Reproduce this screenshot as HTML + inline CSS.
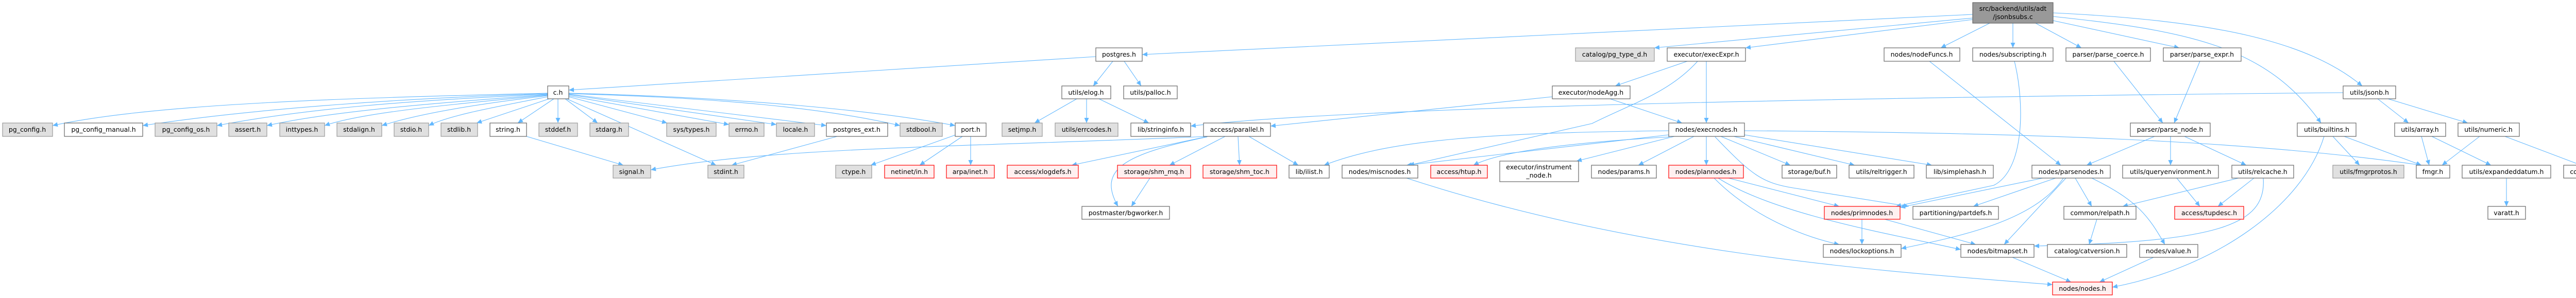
<!DOCTYPE html>
<html><head><meta charset="utf-8"><style>
html,body{margin:0;padding:0;background:#fff;overflow:hidden;width:5128px;height:579px;}
svg{display:block;position:absolute;left:0;top:0;}
text{font-family:"DejaVu Sans","Liberation Sans",sans-serif;font-size:12.5px;fill:#000;text-anchor:middle;}
.w{fill:#fff;stroke:#666;stroke-width:1.2}
.g{fill:#e0e0e0;stroke:#999;stroke-width:1.2}
.r{fill:#fff0f0;stroke:#f00;stroke-width:1.2}
.k{fill:#999;stroke:#666;stroke-width:1.2}
path{fill:none;stroke:#63b8ff;stroke-width:1.1}
</style></head><body>
<svg width="5128" height="579" viewBox="0 0 5128 579" xmlns="http://www.w3.org/2000/svg">
<defs><marker id="a" markerUnits="userSpaceOnUse" markerWidth="11" markerHeight="9" refX="10" refY="4.5" orient="auto"><path d="M0,0 L10,4.5 L0,9 z" style="fill:#63b8ff;stroke:none"/></marker></defs>
<g marker-end="url(#a)">
<path d="M3829,28 L2217,106"/>
<path d="M3840,34 L3211,93"/>
<path d="M3829,38 L3388,93"/>
<path d="M3862,45 L3767,93"/>
<path d="M3907,45 L3907,93"/>
<path d="M3951,45 L4040,93"/>
<path d="M3985,40 L4230,93"/>
<path d="M3985,32 C4250,60 4400,90 4505,239"/>
<path d="M3985,25 C4300,40 4480,80 4585,167"/>
<path d="M2127,110 L1104,175"/>
<path d="M2160,119 L2122,167"/>
<path d="M2182,119 L2215,167"/>
<path d="M1063,181 C700,190 300,200 102,244"/>
<path d="M1063,182 C800,190 500,210 277,244"/>
<path d="M1063,183 C800,195 600,210 421,244"/>
<path d="M1063,184 C850,200 650,215 518,244"/>
<path d="M1063,185 C850,205 700,220 630,244"/>
<path d="M1063,186 C900,205 800,225 741,244"/>
<path d="M1063,188 C950,210 870,225 832,244"/>
<path d="M1066,192 L925,239"/>
<path d="M1075,192 L1005,239"/>
<path d="M1083,192 L1083,239"/>
<path d="M1097,192 L1160,239"/>
<path d="M1104,188 L1295,239"/>
<path d="M1104,186 L1415,242"/>
<path d="M1104,184 L1507,242"/>
<path d="M1104,183 L1604,244"/>
<path d="M1104,182 C1400,190 1600,210 1747,244"/>
<path d="M1104,181 C1450,190 1700,215 1854,244"/>
<path d="M1100,192 L1390,321"/>
<path d="M1022,265 L1210,321"/>
<path d="M1625,265 L1420,321"/>
<path d="M1855,262 L1690,321"/>
<path d="M1868,265 L1785,321"/>
<path d="M1884,265 L1884,321"/>
<path d="M2090,192 L2008,239"/>
<path d="M2109,192 L2109,239"/>
<path d="M2133,192 L2230,239"/>
<path d="M2343,265 C1900,285 1500,285 1263,330"/>
<path d="M2345,265 L2080,321"/>
<path d="M2343,266 C2180,300 2130,330 2170,401"/>
<path d="M2378,265 L2270,321"/>
<path d="M2403,265 L2406,321"/>
<path d="M2424,265 L2520,321"/>
<path d="M2232,346 L2196,401"/>
<path d="M3275,119 L3135,167"/>
<path d="M3312,119 L3312,239"/>
<path d="M3295,119 C3240,180 3170,200 3090,240 L2735,321"/>
<path d="M3013,188 L2466,245"/>
<path d="M3125,192 L3265,239"/>
<path d="M4548,180 C3500,190 2600,210 2311,245"/>
<path d="M3239,254 C2900,258 2700,270 2570,321"/>
<path d="M3239,262 L2730,321"/>
<path d="M3240,266 C3000,280 2900,300 2860,321"/>
<path d="M3250,265 L3060,313"/>
<path d="M3288,265 L3180,321"/>
<path d="M3312,265 L3312,321"/>
<path d="M3340,265 L3475,321"/>
<path d="M3365,265 L3600,321"/>
<path d="M3386,262 L3750,321"/>
<path d="M3329,266 C3400,340 3420,355 3480,365 L3705,401"/>
<path d="M3386,254 C3900,258 4350,270 4700,321"/>
<path d="M3355,346 L3570,401"/>
<path d="M3327,346 C3400,420 3500,460 3570,475"/>
<path d="M3335,346 C3450,420 3700,460 3806,485"/>
<path d="M3614,426 L3614,475"/>
<path d="M3658,426 L3835,475"/>
<path d="M3906,500 L4020,548"/>
<path d="M2730,346 C3200,500 3700,530 3984,553"/>
<path d="M3745,119 L4000,321"/>
<path d="M3910,119 C3930,200 3930,330 3870,360 L3680,401"/>
<path d="M3965,346 L3688,403"/>
<path d="M3990,346 L3830,401"/>
<path d="M4005,346 C3950,430 3800,460 3690,483"/>
<path d="M4010,346 L3890,475"/>
<path d="M4028,346 L4060,401"/>
<path d="M4060,346 C4150,390 4170,420 4202,475"/>
<path d="M4070,426 L4055,475"/>
<path d="M4345,346 L4120,401"/>
<path d="M4375,346 L4305,401"/>
<path d="M4393,346 C4400,440 4300,470 3948,478"/>
<path d="M4225,346 L4270,401"/>
<path d="M4103,119 L4198,239"/>
<path d="M4270,119 L4220,239"/>
<path d="M4182,265 L4050,321"/>
<path d="M4213,265 L4213,321"/>
<path d="M4240,265 L4360,321"/>
<path d="M4550,265 L4700,321"/>
<path d="M4528,265 L4580,321"/>
<path d="M4511,265 C4470,400 4300,520 4100,558"/>
<path d="M4180,500 L4075,548"/>
<path d="M4615,192 L4675,239"/>
<path d="M4635,192 L4790,239"/>
<path d="M4700,265 L4715,321"/>
<path d="M4720,265 L4835,321"/>
<path d="M4813,265 L4740,321"/>
<path d="M4862,265 L5010,321"/>
<path d="M4865,346 L4865,401"/>
</g>
<rect class="k" x="3829" y="5" width="156" height="40"/><text x="3907" y="21">src/backend/utils/adt</text><text x="3907" y="37">/jsonbsubs.c</text>
<rect class="w" x="2127" y="93" width="90" height="26"/><text x="2172" y="110">postgres.h</text>
<rect class="g" x="3058" y="93" width="153" height="26"/><text x="3134" y="110">catalog/pg_type_d.h</text>
<rect class="w" x="3236" y="93" width="152" height="26"/><text x="3312" y="110">executor/execExpr.h</text>
<rect class="w" x="3657" y="93" width="147" height="26"/><text x="3730" y="110">nodes/nodeFuncs.h</text>
<rect class="w" x="3829" y="93" width="156" height="26"/><text x="3907" y="110">nodes/subscripting.h</text>
<rect class="w" x="4010" y="93" width="164" height="26"/><text x="4092" y="110">parser/parse_coerce.h</text>
<rect class="w" x="4199" y="93" width="151" height="26"/><text x="4274" y="110">parser/parse_expr.h</text>
<rect class="w" x="1063" y="167" width="41" height="25"/><text x="1083" y="184">c.h</text>
<rect class="w" x="2061" y="167" width="95" height="25"/><text x="2108" y="184">utils/elog.h</text>
<rect class="w" x="2181" y="167" width="104" height="25"/><text x="2233" y="184">utils/palloc.h</text>
<rect class="w" x="3013" y="167" width="151" height="25"/><text x="3088" y="184">executor/nodeAgg.h</text>
<rect class="w" x="4548" y="167" width="102" height="25"/><text x="4599" y="184">utils/jsonb.h</text>
<rect class="g" x="5" y="239" width="97" height="26"/><text x="53" y="256">pg_config.h</text>
<rect class="w" x="125" y="239" width="152" height="26"/><text x="201" y="256">pg_config_manual.h</text>
<rect class="g" x="301" y="239" width="120" height="26"/><text x="361" y="256">pg_config_os.h</text>
<rect class="g" x="444" y="239" width="74" height="26"/><text x="481" y="256">assert.h</text>
<rect class="g" x="543" y="239" width="87" height="26"/><text x="586" y="256">inttypes.h</text>
<rect class="g" x="654" y="239" width="87" height="26"/><text x="697" y="256">stdalign.h</text>
<rect class="g" x="765" y="239" width="67" height="26"/><text x="798" y="256">stdio.h</text>
<rect class="g" x="856" y="239" width="71" height="26"/><text x="891" y="256">stdlib.h</text>
<rect class="w" x="951" y="239" width="71" height="26"/><text x="986" y="256">string.h</text>
<rect class="g" x="1046" y="239" width="75" height="26"/><text x="1083" y="256">stddef.h</text>
<rect class="g" x="1145" y="239" width="75" height="26"/><text x="1182" y="256">stdarg.h</text>
<rect class="g" x="1294" y="239" width="96" height="26"/><text x="1342" y="256">sys/types.h</text>
<rect class="g" x="1415" y="239" width="68" height="26"/><text x="1449" y="256">errno.h</text>
<rect class="g" x="1507" y="239" width="74" height="26"/><text x="1544" y="256">locale.h</text>
<rect class="w" x="1604" y="239" width="119" height="26"/><text x="1663" y="256">postgres_ext.h</text>
<rect class="g" x="1747" y="239" width="82" height="26"/><text x="1788" y="256">stdbool.h</text>
<rect class="w" x="1854" y="239" width="60" height="26"/><text x="1884" y="256">port.h</text>
<rect class="g" x="1945" y="239" width="78" height="26"/><text x="1984" y="256">setjmp.h</text>
<rect class="g" x="2048" y="239" width="122" height="26"/><text x="2109" y="256">utils/errcodes.h</text>
<rect class="w" x="2195" y="239" width="116" height="26"/><text x="2253" y="256">lib/stringinfo.h</text>
<rect class="w" x="2336" y="239" width="130" height="26"/><text x="2401" y="256">access/parallel.h</text>
<rect class="w" x="3239" y="239" width="147" height="26"/><text x="3312" y="256">nodes/execnodes.h</text>
<rect class="w" x="4135" y="239" width="155" height="26"/><text x="4212" y="256">parser/parse_node.h</text>
<rect class="w" x="4459" y="239" width="114" height="26"/><text x="4516" y="256">utils/builtins.h</text>
<rect class="w" x="4648" y="239" width="99" height="26"/><text x="4697" y="256">utils/array.h</text>
<rect class="w" x="4771" y="239" width="119" height="26"/><text x="4830" y="256">utils/numeric.h</text>
<rect class="g" x="1190" y="321" width="73" height="25"/><text x="1226" y="338">signal.h</text>
<rect class="g" x="1374" y="321" width="70" height="25"/><text x="1409" y="338">stdint.h</text>
<rect class="g" x="1622" y="321" width="70" height="25"/><text x="1657" y="338">ctype.h</text>
<rect class="r" x="1717" y="321" width="96" height="25"/><text x="1765" y="338">netinet/in.h</text>
<rect class="r" x="1837" y="321" width="93" height="25"/><text x="1883" y="338">arpa/inet.h</text>
<rect class="r" x="1955" y="321" width="138" height="25"/><text x="2024" y="338">access/xlogdefs.h</text>
<rect class="r" x="2169" y="321" width="142" height="25"/><text x="2240" y="338">storage/shm_mq.h</text>
<rect class="r" x="2335" y="321" width="143" height="25"/><text x="2406" y="338">storage/shm_toc.h</text>
<rect class="w" x="2502" y="321" width="78" height="25"/><text x="2541" y="338">lib/ilist.h</text>
<rect class="w" x="2605" y="321" width="147" height="25"/><text x="2678" y="338">nodes/miscnodes.h</text>
<rect class="r" x="2777" y="321" width="110" height="25"/><text x="2832" y="338">access/htup.h</text>
<rect class="w" x="2911" y="313" width="153" height="40"/><text x="2987" y="329">executor/instrument</text><text x="2987" y="345">_node.h</text>
<rect class="w" x="3089" y="321" width="126" height="25"/><text x="3152" y="338">nodes/params.h</text>
<rect class="r" x="3239" y="321" width="145" height="25"/><text x="3311" y="338">nodes/plannodes.h</text>
<rect class="w" x="3459" y="321" width="106" height="25"/><text x="3512" y="338">storage/buf.h</text>
<rect class="w" x="3589" y="321" width="126" height="25"/><text x="3652" y="338">utils/reltrigger.h</text>
<rect class="w" x="3739" y="321" width="130" height="25"/><text x="3804" y="338">lib/simplehash.h</text>
<rect class="w" x="3944" y="321" width="152" height="25"/><text x="4020" y="338">nodes/parsenodes.h</text>
<rect class="w" x="4120" y="321" width="186" height="25"/><text x="4213" y="338">utils/queryenvironment.h</text>
<rect class="w" x="4332" y="321" width="120" height="25"/><text x="4392" y="338">utils/relcache.h</text>
<rect class="g" x="4528" y="321" width="138" height="25"/><text x="4597" y="338">utils/fmgrprotos.h</text>
<rect class="w" x="4690" y="321" width="65" height="25"/><text x="4722" y="338">fmgr.h</text>
<rect class="w" x="4779" y="321" width="172" height="25"/><text x="4865" y="338">utils/expandeddatum.h</text>
<rect class="w" x="4976" y="321" width="147" height="25"/><text x="5049" y="338">common/pg_prng.h</text>
<rect class="w" x="2100" y="401" width="170" height="25"/><text x="2185" y="418">postmaster/bgworker.h</text>
<rect class="r" x="3541" y="401" width="147" height="25"/><text x="3614" y="418">nodes/primnodes.h</text>
<rect class="w" x="3713" y="401" width="166" height="25"/><text x="3796" y="418">partitioning/partdefs.h</text>
<rect class="w" x="4006" y="401" width="140" height="25"/><text x="4076" y="418">common/relpath.h</text>
<rect class="r" x="4221" y="401" width="134" height="25"/><text x="4288" y="418">access/tupdesc.h</text>
<rect class="w" x="4829" y="401" width="73" height="25"/><text x="4865" y="418">varatt.h</text>
<rect class="w" x="3539" y="475" width="151" height="25"/><text x="3614" y="492">nodes/lockoptions.h</text>
<rect class="w" x="3806" y="475" width="142" height="25"/><text x="3877" y="492">nodes/bitmapset.h</text>
<rect class="w" x="3974" y="475" width="154" height="25"/><text x="4051" y="492">catalog/catversion.h</text>
<rect class="w" x="4153" y="475" width="113" height="25"/><text x="4209" y="492">nodes/value.h</text>
<rect class="r" x="3984" y="548" width="116" height="25"/><text x="4042" y="565">nodes/nodes.h</text>
</svg>
</body></html>
